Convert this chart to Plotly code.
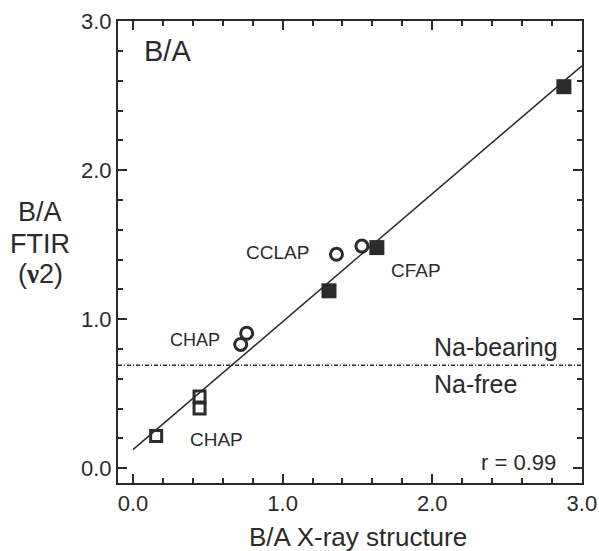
import plotly.graph_objects as go

# Data
filled_sq_x = [1.31, 1.63, 2.88]
filled_sq_y = [1.19, 1.48, 2.56]
open_circ_x = [0.72, 0.76, 1.36, 1.53]
open_circ_y = [0.83, 0.905, 1.435, 1.49]
open_sq_x = [0.155, 0.445, 0.445]
open_sq_y = [0.215, 0.40, 0.48]
fit_x = [0.0, 3.0]
fit_y = [0.124, 2.70]
na_line_y = 0.69

INK = "#2b2b2b"
FONT = "Liberation Sans, Arial, sans-serif"

fig = go.Figure()
fig.add_trace(go.Scatter(x=fit_x, y=fit_y, mode="lines",
                         line=dict(color=INK, width=1.5), showlegend=False))
fig.add_trace(go.Scatter(x=[-0.1, 3.0], y=[na_line_y, na_line_y], mode="lines",
                         line=dict(color=INK, width=1.5, dash="4px,2px,1px,2px"),
                         showlegend=False))
fig.add_trace(go.Scatter(x=open_sq_x, y=open_sq_y, mode="markers",
                         marker=dict(symbol="square-open", size=11, color=INK,
                                     line=dict(width=3, color=INK)), showlegend=False))
fig.add_trace(go.Scatter(x=open_circ_x, y=open_circ_y, mode="markers",
                         marker=dict(symbol="circle-open", size=12, color=INK,
                                     line=dict(width=3, color=INK)), showlegend=False))
fig.add_trace(go.Scatter(x=filled_sq_x, y=filled_sq_y, mode="markers",
                         marker=dict(symbol="square", size=15, color=INK,
                                     line=dict(width=0)), showlegend=False))

axis_common = dict(
    showgrid=False, zeroline=False, showline=True, linecolor=INK, linewidth=2,
    mirror="ticks", ticks="inside", ticklen=9, tickwidth=1.5, tickcolor=INK,
    dtick=1.0, tick0=0, tickformat=".1f", automargin=False,
    minor=dict(dtick=0.2, tick0=0, ticks="inside", ticklen=5, tickwidth=1.5, tickcolor=INK),
    tickfont=dict(family=FONT, size=22, color=INK),
)
fig.update_xaxes(range=[-0.1, 3.001], **axis_common)
fig.update_yaxes(range=[-0.1, 3.001], **axis_common)

ann = [
    dict(x=0.058, y=2.80, text="B/A", size=29, xanchor="left"),
    dict(x=0.745, y=1.445, text="CCLAP", size=19, xanchor="left"),
    dict(x=1.71, y=1.325, text="CFAP", size=19, xanchor="left"),
    dict(x=0.231, y=0.86, text="CHAP", size=18, xanchor="left"),
    dict(x=0.371, y=0.19, text="CHAP", size=19, xanchor="left"),
    dict(x=1.998, y=0.815, text="Na-bearing", size=25, xanchor="left"),
    dict(x=1.998, y=0.565, text="Na-free", size=25, xanchor="left"),
    dict(x=2.838, y=0.035, text="r = 0.99", size=22, xanchor="right"),
]
for a in ann:
    fig.add_annotation(x=a["x"], y=a["y"], text=a["text"], showarrow=False,
                       xanchor=a["xanchor"], yanchor="middle",
                       font=dict(family=FONT, size=a["size"], color=INK))

# x-axis title
fig.add_annotation(xref="paper", yref="paper", x=(358 - 118) / 464, y=(551 - 68 - 537) / 462,
                   xanchor="center", yanchor="middle",
                   text="B/A X-ray structure", showarrow=False,
                   font=dict(family=FONT, size=26, color=INK))
# y-axis title, three lines
ylines = [("B/A", 212), ("FTIR", 244),
          ("(<span style='font-family:Liberation Serif;font-weight:bold'>ν</span>2)", 274)]
for txt, py in ylines:
    fig.add_annotation(xref="paper", yref="paper", x=(40 - 118) / 464,
                       y=(551 - 68 - py) / 462, xanchor="center", yanchor="middle",
                       showarrow=False, text=txt,
                       font=dict(family=FONT, size=27, color=INK))

fig.update_layout(
    width=599, height=551,
    margin=dict(l=118, r=17, t=21, b=68),
    plot_bgcolor="white", paper_bgcolor="white",
)
fig.write_html("out.html")
